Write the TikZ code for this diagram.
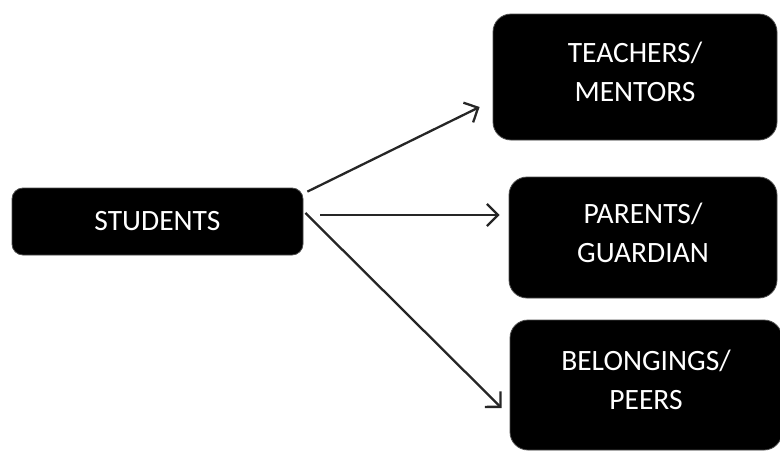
\documentclass[tikz,border=0pt]{standalone}
\usepackage{fontspec}
\setmainfont{Carlito}
\usetikzlibrary{arrows.meta,calc}
\begin{document}
\begin{tikzpicture}[x=1pt,y=-1pt,
  box/.style={fill=black,draw=black!70,line width=0.8pt,text=white,align=center,
    font=\fontsize{29.5}{39}\selectfont,inner sep=0pt},
  twoline/.style={box,rounded corners=18pt,text depth=10pt},
  conn/.style={draw=black!85,line width=2.3pt,-{Straight Barb[length=11pt,width=22pt,line width=2.3pt]}}]
\useasboundingbox (0,0) rectangle (780,453);
\node[box,rounded corners=11pt,minimum width=291pt,minimum height=67pt,text depth=2pt] (stu) at (157.5,221.5) {STUDENTS};
\node[twoline,minimum width=284pt,minimum height=126pt] (tea) at (635,77) {TEACHERS/\\MENTORS};
\node[twoline,minimum width=268pt,minimum height=121pt] (par) at (643,237.5) {PARENTS/\\GUARDIAN};
\node[twoline,minimum width=272pt,minimum height=130pt] (bel) at (646,385) {BELONGINGS/\\PEERS};
\draw[conn] ($(stu.north east)+(4,4)$) -- ($(tea.west)+(-13,30)$);
\draw[conn] ($(stu.east)+(17,-6.5)$) -- ($(par.west)+(-9,-22.5)$);
\draw[conn] ($(stu.east)+(2,-8.5)$) -- ($(bel.west)+(-8,23)$);
\end{tikzpicture}
\end{document}
